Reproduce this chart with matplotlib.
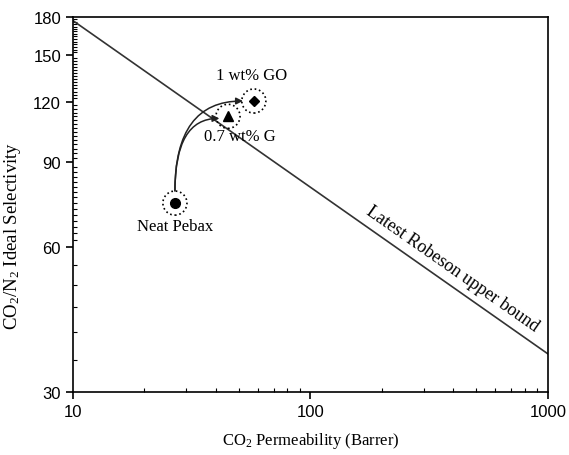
import numpy as np
import matplotlib.pyplot as plt
from matplotlib.ticker import FixedLocator, NullFormatter

plt.rcParams['mathtext.fontset'] = 'custom'
plt.rcParams['mathtext.rm'] = 'Liberation Serif'
plt.rcParams['mathtext.it'] = 'Liberation Serif:italic'

# Robeson upper bound endpoints (log-log straight line)
bound_perm = [10, 1000]
bound_sel = [177, 36]

# membranes
labels = ['Neat Pebax', '0.7 wt% G', '1 wt% GO']
perm = [26.9, 45.0, 57.8]
sel = [74, 112, 120.5]
markers = ['o', '^', 'D']

y_ticks = [30, 60, 90, 120, 150, 180]

serif = ['Liberation Serif', 'DejaVu Serif']
sans = ['Liberation Sans', 'DejaVu Sans']

fig = plt.figure(figsize=(5.69, 4.56), dpi=100)
ax = fig.add_axes([0.128, 0.138, 0.835, 0.8225])
ax.set_xscale('log')
ax.set_yscale('log')
ax.set_xlim(10, 1000)
ax.set_ylim(30, 180)

ax.plot(bound_perm, bound_sel, color='#333333', lw=1.2)

# dotted circles around each point
ax.scatter(perm, sel, s=300, facecolors='none', edgecolors='black',
           linestyles=':', linewidths=1.2, zorder=3)
for x, y, m in zip(perm, sel, markers):
    ms = 7 if m != 'D' else 5.5
    ax.plot(x, y, marker=m, color='black', ms=ms, zorder=4)

# curved arrows from neat Pebax
for tx, ty in [(perm[1] * 0.92, sel[1] * 0.99), (perm[2] * 0.9, sel[2] * 1.0)]:
    ax.annotate('', xy=(tx, ty), xytext=(perm[0], sel[0] * 1.06),
                arrowprops=dict(arrowstyle='-|>', color='#222222', lw=1.1,
                                mutation_scale=10,
                                connectionstyle='angle3,angleA=90,angleB=0',
                                shrinkA=0, shrinkB=0))

ax.text(perm[0], sel[0] * 0.93, labels[0], ha='center', va='top',
        fontsize=12, family=serif)
ax.text(perm[1] * 1.12, sel[1] * 0.945, labels[1], ha='center', va='top',
        fontsize=12, family=serif)
ax.text(perm[2] * 0.98, sel[2] * 1.09, labels[2], ha='center', va='bottom',
        fontsize=12, family=serif)

ax.text(378, 52.4, 'Latest Robeson upper bound', rotation=-35,
        ha='center', va='bottom', fontsize=13, family=serif,
        rotation_mode='anchor')

ax.set_xticks([10, 100, 1000])
ax.set_xticklabels(['10', '100', '1000'], family=sans, fontsize=12)
ax.xaxis.set_minor_locator(FixedLocator(
    [k * 10 ** e for e in (1, 2) for k in range(2, 10)]))
ax.xaxis.set_minor_formatter(NullFormatter())

ax.set_yticks(y_ticks)
ax.set_yticklabels([str(v) for v in y_ticks], family=sans, fontsize=12)
ax.yaxis.set_minor_locator(FixedLocator(
    list(range(35, 60, 5)) + list(range(62, 180, 2))))
ax.yaxis.set_minor_formatter(NullFormatter())

ax.tick_params(which='major', direction='out', length=5, width=1.2)
ax.tick_params(which='minor', direction='in', length=3, width=0.8)
for sp in ax.spines.values():
    sp.set_linewidth(1.2)

ax.set_xlabel('CO$_2$ Permeability (Barrer)', family=serif, fontsize=12,
              labelpad=8)
ax.set_ylabel('CO$_2$/N$_2$ Ideal Selectivity', family=serif, fontsize=13.5)
ax.yaxis.set_label_coords(-0.105, 0.42)

fig.savefig('out.png', dpi=100)
